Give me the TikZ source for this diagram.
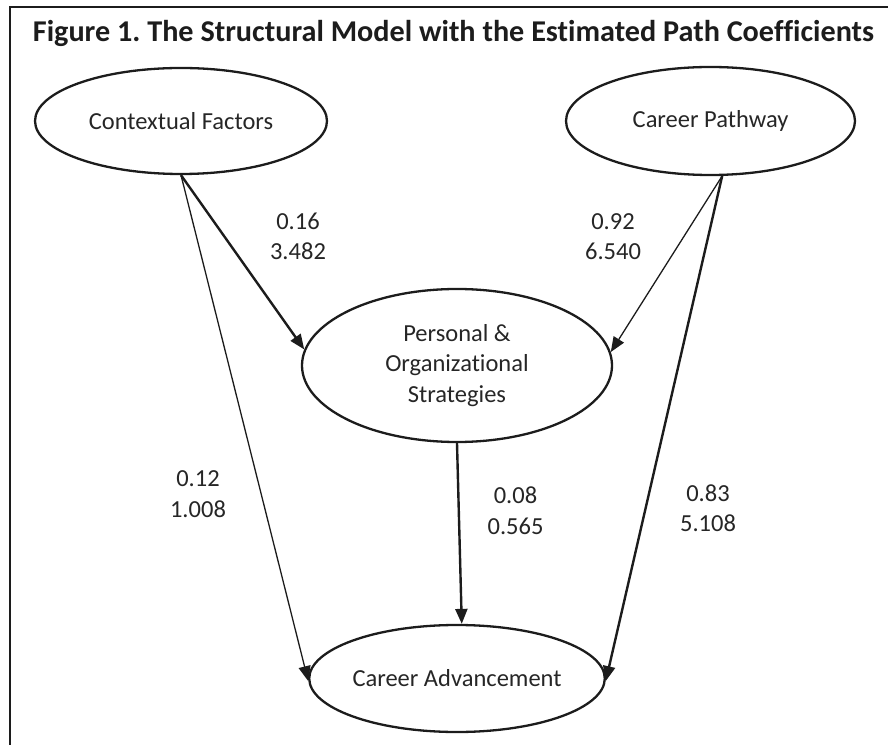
\documentclass[tikz,border=0pt]{standalone}
\usepackage{fontspec}
\setmainfont{Carlito}[Ligatures=NoCommon]
\usetikzlibrary{shapes.geometric,arrows.meta}
\definecolor{ink}{HTML}{1C1C1C}
\definecolor{txt}{HTML}{262626}
\frenchspacing
\begin{document}
\begin{tikzpicture}[x=1pt,y=1pt,
  latent/.style={ellipse,draw=ink,line width=2.3pt,inner sep=0pt,
    text=txt,font=\fontsize{24.5}{30.5}\selectfont,align=center},
  coef/.style={text=txt,font=\fontsize{24.5}{30.5}\selectfont,align=center,inner sep=0pt},
  thinpath/.style={draw=ink,line width=1.3pt,-{Triangle[length=15pt,width=12pt]}},
  thickpath/.style={draw=ink,line width=2.4pt,-{Triangle[length=15pt,width=12pt]}}]
\useasboundingbox (0,0) rectangle (888,745);

% frame and caption
\draw[ink,line width=2.5pt] (888,738) -- (10,738) -- (10,0);
\node[text=ink,font=\bfseries\fontsize{30.2}{34}\selectfont,anchor=base,inner sep=0pt]
  (title) at (453.5,703) {Figure 1. The Structural Model with the Estimated Path Coefficients};

% latent constructs
\node[latent,minimum width=292pt,minimum height=106pt] (cf) at (181,624) {Contextual Factors};
\node[latent,minimum width=289pt,minimum height=108pt] (cp) at (710.5,624) {Career Pathway};
\node[latent,minimum width=310pt,minimum height=153pt] (pos) at (457,379.5)
  {Personal \&\\Organizational\\Strategies};
\node[latent,minimum width=292pt,minimum height=107pt] (ca) at (457,66.5) {Career Advancement};

% structural paths
\draw[thickpath] (cf.south) -- (pos.174);
\draw[thinpath]  (cf.south) -- (ca.181);
\draw[thinpath]  (cp.282) -- (pos.5);
\draw[thickpath] (cp.282) -- (ca.359);
\draw[thickpath] (pos.south) -- (ca.85);

% path coefficients and t-values
\node[coef] (l1) at (298,508.5) {0.16\\3.482};
\node[coef] (l2) at (613,508.5) {0.92\\6.540};
\node[coef] (l3) at (198,251) {0.12\\1.008};
\node[coef] (l4) at (515.5,234.5) {0.08\\0.565};
\node[coef] (l5) at (708,237) {0.83\\5.108};
\end{tikzpicture}
\end{document}
